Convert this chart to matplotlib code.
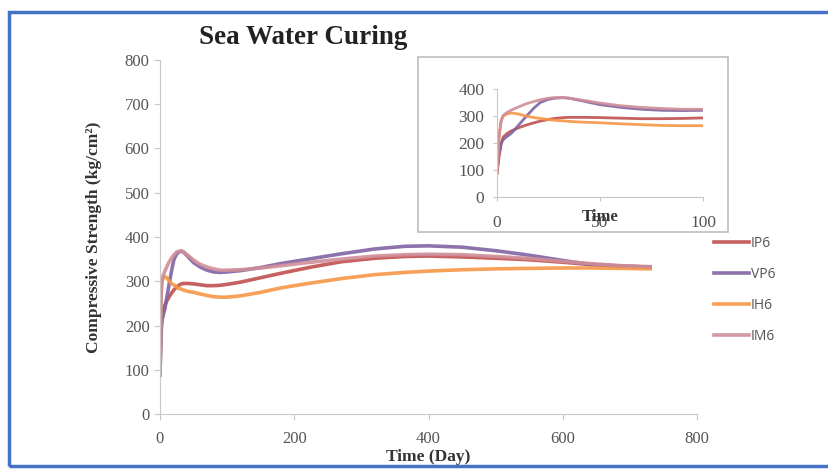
import matplotlib.pyplot as plt
from matplotlib.patches import Rectangle

# days and compressive strength (kg/cm2)
days = [0, 1, 2, 3, 5, 7, 10, 14, 18, 21, 25, 28, 32, 35, 42, 50, 60, 70, 80, 90,
        100, 120, 150, 180, 225, 270, 320, 365, 400, 450, 500, 545, 600, 640, 690, 730]
ip6 = [88, 150, 195, 222, 236, 245, 255, 266, 275, 281, 287, 291, 294, 295, 295, 294, 292, 290, 290, 291,
       293, 298, 308, 318, 332, 344, 352, 356, 357, 355, 352, 349, 343, 338, 334, 332]
vp6 = [88, 160, 200, 212, 225, 236, 262, 297, 330, 350, 362, 366, 368, 366, 355, 342, 332, 325, 321, 320,
       321, 324, 331, 340, 351, 362, 373, 379, 380, 377, 369, 360, 347, 338, 334, 332]
ih6 = [88, 230, 285, 300, 308, 311, 308, 300, 294, 291, 287, 284, 282, 280, 277, 275, 271, 268, 265, 264,
       264, 267, 275, 285, 296, 306, 315, 320, 323, 326, 328, 329, 330, 330, 329, 328]
im6 = [88, 220, 280, 302, 314, 322, 332, 345, 354, 360, 366, 368, 368, 366, 358, 348, 338, 332, 328, 325,
       325, 326, 330, 335, 343, 350, 357, 360, 361, 360, 356, 352, 345, 340, 335, 333]

series = [('IP6', ip6, '#c0504d'), ('VP6', vp6, '#8064a2'),
          ('IH6', ih6, '#f79646'), ('IM6', im6, '#d08e98')]

main_xticks = [0, 200, 400, 600, 800]
main_yticks = [0, 100, 200, 300, 400, 500, 600, 700, 800]
inset_xticks = [0, 50, 100]
inset_yticks = [0, 100, 200, 300, 400]

serif = ['Liberation Serif', 'DejaVu Serif']
grey = '#555555'
axcol = '#c8c8c8'

fig = plt.figure(figsize=(8.29, 4.69), dpi=100)

# blue frame around the picture (open on the right, cropped)
fig.patches.append(Rectangle((9 / 829, 3 / 469), 1.0, 454 / 469, transform=fig.transFigure,
                             fill=False, edgecolor='#4472c4', linewidth=2.5))

ax = fig.add_axes([160 / 829, 55 / 469, 537 / 829, 354 / 469])
for name, vals, col in series:
    ax.plot(days, vals, color=col, linewidth=2.6, label=name, alpha=0.9)
ax.set_xlim(0, 800)
ax.set_ylim(0, 800)
ax.set_xticks(main_xticks)
ax.set_yticks(main_yticks)
for s in ['top', 'right']:
    ax.spines[s].set_visible(False)
for s in ['left', 'bottom']:
    ax.spines[s].set_color(axcol)
ax.tick_params(colors=axcol, labelcolor=grey, length=4, labelsize=12)
ax.tick_params(axis='x', pad=8)
for lab in ax.get_xticklabels() + ax.get_yticklabels():
    lab.set_family(serif)
ax.set_xlabel('Time (Day)', family=serif, fontweight='bold', fontsize=12.5, color='#333333', labelpad=2)
ax.set_ylabel('Compressive Strength (kg/cm²)', family=serif, fontweight='bold',
              fontsize=12.5, color='#333333', labelpad=16)
fig.text(303 / 829, 1 - 38 / 469, 'Sea Water Curing', family=serif, fontweight='bold',
         fontsize=19.5, color='#222222', ha='center', va='center')

ax.legend(loc='center left', bbox_to_anchor=(714 / 829, 1 - 290 / 469), bbox_transform=fig.transFigure,
          frameon=False, labelspacing=1.15, handlelength=2.5, handletextpad=0.15,
          borderpad=0, borderaxespad=0, labelcolor=grey, prop={'family': 'Open Sans', 'size': 10})

# inset box and inset axes
fig.patches.append(Rectangle((418 / 829, 1 - 232 / 469), 310 / 829, 175 / 469, transform=fig.transFigure,
                             fill=False, edgecolor='#bdbdbd', linewidth=1.2, zorder=0))
ins = fig.add_axes([497 / 829, 1 - 197 / 469, 206 / 829, 108 / 469])
for name, vals, col in series:
    ins.plot(days, vals, color=col, linewidth=2.0, alpha=0.9)
ins.set_xlim(0, 100)
ins.set_ylim(0, 400)
ins.set_xticks(inset_xticks)
ins.set_yticks(inset_yticks)
for s in ['top', 'right']:
    ins.spines[s].set_visible(False)
for s in ['left', 'bottom']:
    ins.spines[s].set_color(axcol)
ins.tick_params(colors=axcol, labelcolor=grey, length=3, labelsize=12.5)
ins.tick_params(axis='x', pad=10)
ins.tick_params(axis='y', pad=6)
for lab in ins.get_xticklabels() + ins.get_yticklabels():
    lab.set_family(serif)
# the reference draws the inset axis title right over the "50" tick label
ins.set_xlabel('Time', family=serif, fontweight='bold', fontsize=12, color='#333333', labelpad=-16)

fig.savefig('out.png', dpi=100)
